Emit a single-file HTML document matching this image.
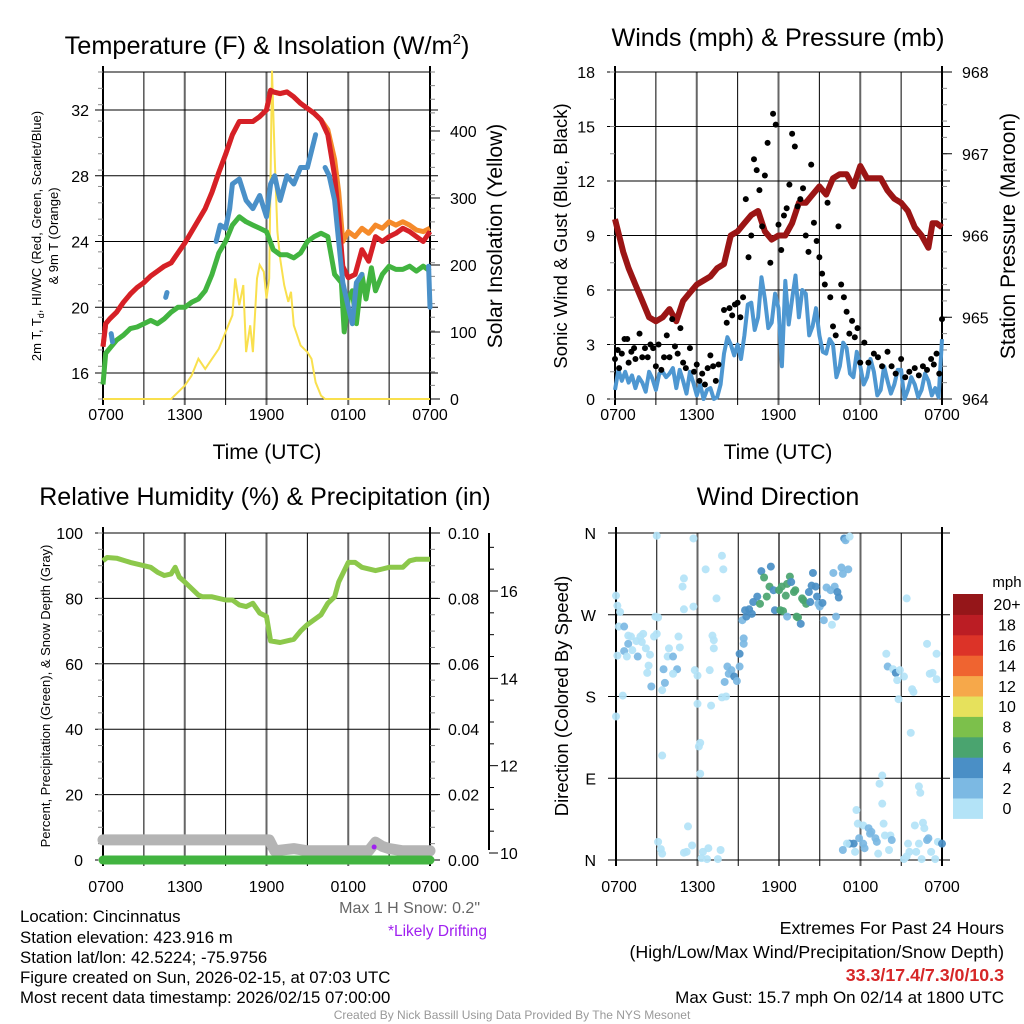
<!DOCTYPE html>
<html><head><meta charset="utf-8">
<style>
body{margin:0;background:#fff;}
svg{display:block;font-family:"Liberation Sans",sans-serif;}
</style></head>
<body>
<svg id="fig" width="1024" height="1024" viewBox="0 0 1024 1024">
<g id="layer"></g>
<text x="267" y="54" font-size="25.3" text-anchor="middle">Temperature (F) &amp; Insolation (W/m<tspan dy="-10" font-size="15">2</tspan><tspan dy="10">)</tspan></text>
<text x="778" y="46" font-size="25.2" text-anchor="middle">Winds (mph) &amp; Pressure (mb)</text>
<text x="265" y="505" font-size="25" text-anchor="middle">Relative Humidity (%) &amp; Precipitation (in)</text>
<text x="778" y="505" font-size="25" text-anchor="middle">Wind Direction</text>
<text x="267" y="459" font-size="21" text-anchor="middle">Time (UTC)</text>
<text x="778" y="459" font-size="21" text-anchor="middle">Time (UTC)</text>
<text transform="translate(41,236) rotate(-90)" font-size="13" text-anchor="middle">2m T, T<tspan dy="3" font-size="9">d</tspan><tspan dy="-3">, HI/WC (Red, Green, Scarlet/Blue)</tspan></text>
<text transform="translate(58,236) rotate(-90)" font-size="13" text-anchor="middle">&amp; 9m T (Orange)</text>
<text transform="translate(502,236) rotate(-90)" font-size="21" text-anchor="middle">Solar Insolation (Yellow)</text>
<text transform="translate(567,236) rotate(-90)" font-size="18.5" text-anchor="middle">Sonic Wind &amp; Gust (Blue, Black)</text>
<text transform="translate(1015,236) rotate(-90)" font-size="21" text-anchor="middle">Station Pressure (Maroon)</text>
<text transform="translate(50,696) rotate(-90)" font-size="13" text-anchor="middle">Percent, Precipitation (Green), &amp; Snow Depth (Gray)</text>
<text transform="translate(568,696) rotate(-90)" font-size="18.5" text-anchor="middle">Direction (Colored By Speed)</text>
<text x="480" y="913" font-size="16" fill="#666" text-anchor="end">Max 1 H Snow: 0.2"</text>
<text x="487" y="936" font-size="15.5" fill="#a020f0" text-anchor="end">*Likely Drifting</text>
<g font-size="16.8">
<text x="20" y="922">Location: Cincinnatus</text>
<text x="20" y="943">Station elevation: 423.916 m</text>
<text x="20" y="963">Station lat/lon: 42.5224; -75.9756</text>
<text x="20" y="983">Figure created on Sun, 2026-02-15, at 07:03 UTC</text>
<text x="20" y="1003">Most recent data timestamp: 2026/02/15 07:00:00</text>
</g>
<g font-size="17.8" text-anchor="end">
<text x="1004" y="934">Extremes For Past 24 Hours</text>
<text x="1004" y="958">(High/Low/Max Wind/Precipitation/Snow Depth)</text>
<text x="1004" y="981" fill="#d62728" font-weight="bold">33.3/17.4/7.3/0/10.3</text>
<text x="1004" y="1003" font-size="17">Max Gust: 15.7 mph On 02/14 at 1800 UTC</text>
</g>
<text x="512" y="1019" font-size="12" fill="#999" text-anchor="middle">Created By Nick Bassill Using Data Provided By The NYS Mesonet</text>
</svg>
<script>
// ---------- data ----------
const timeLabels=["0700","1300","1900","0100","0700"];
const tempTicks=[16,20,24,28,32];
const solarTicks=[0,100,200,300,400];
const windTicks=[0,3,6,9,12,15,18];
const presTicks=[964,965,966,967,968];
const rhTicks=[0,20,40,60,80,100];
const precipTicks=["0.00","0.02","0.04","0.06","0.08","0.10"];
const snowTicks=[10,12,14,16];
const dirLabels=["N","E","S","W","N"];
const cbLabels=["0","2","4","6","8","10","12","14","16","18","20+"];
const cbColors=["#b3e3f7","#7cb9e3","#4a8fc6","#4aa46f","#7cc04b","#e6e15c","#f6a84a","#ef6430","#dc3328","#bb1d24","#951619"];

const tT=[0,0.2,0.5,1,1.5,2,2.5,3,3.5,4,4.5,5,5.5,6,6.5,7,7.5,8,8.5,9,9.5,10,10.5,11,11.5,12,12.3,12.5,13,13.5,14,14.5,15,15.5,16,16.5,17,17.3,17.6,18,18.5,19,19.5,20,20.5,21,21.5,22,22.5,23,23.5,24];
const tempRed=[17.6,19,19.3,19.7,20.3,20.8,21.2,21.5,21.9,22.2,22.5,22.7,23.3,23.9,24.6,25.3,26.0,27.0,28.2,29.3,30.5,31.3,31.3,31.3,31.6,32.0,33.2,33.1,33.0,33.1,32.8,32.4,32.1,31.8,31.4,30.5,28.0,25.5,22.5,21.8,22.0,23.5,22.8,24.3,24.0,24.3,24.5,24.8,24.6,24.3,24.0,24.6];
const tempOrange=[17.6,19,19.3,19.7,20.3,20.8,21.2,21.5,21.9,22.2,22.5,22.7,23.3,23.9,24.6,25.3,26.0,27.0,28.2,29.3,30.5,31.3,31.3,31.3,31.6,32.0,33.2,33.1,33.0,33.1,32.8,32.4,32.1,31.8,31.4,30.8,29.0,27.0,24.0,24.6,24.3,24.8,24.5,25.0,24.8,25.2,25.0,25.2,25.0,24.7,24.6,24.8];
const tD=[0,0.2,0.5,1,1.5,2,2.5,3,3.5,4,4.5,5,5.5,6,6.5,7,7.5,8,8.5,9,9.5,10,10.5,11,11.5,12,12.5,13,13.5,14,14.5,15,15.5,16,16.5,17,17.5,17.7,18,18.3,18.6,19,19.3,19.7,20,20.5,21,21.5,22,22.5,23,23.5,24];
const dewGreen=[15.3,17.2,17.5,18,18.3,18.7,18.8,19.0,19.2,19.0,19.3,19.7,20.0,20.0,20.3,20.5,21.0,22.0,23.3,24.0,25.0,25.5,25.2,25.0,24.8,24.6,23.5,23.2,23.2,23.0,23.3,24.0,24.3,24.5,24.3,22.0,21.5,18.5,20.5,21.0,19.0,22.0,20.5,22.4,21.0,22.0,22.5,22.3,22.3,22.5,22.2,22.5,22.2];
const tW=[0.4,0.6,0.7,4.4,4.6,4.7,8.0,8.3,8.6,9.0,9.3,9.5,10,10.5,11,11.5,12,12.3,12.6,13,13.5,14,14.5,15,15.3,15.6,15.8,16.3,16.6,17,17.3,17.6,18,18.3,18.6,19,19.2,23.8,23.9,24];
const windChill=[null,18.4,17.9,null,20.6,20.9,null,24.0,25.0,24.8,26.0,27.5,27.8,26.5,26.0,26.8,25.5,27.5,28.0,26.5,28.0,27.5,28.5,28.5,29.5,30.5,null,28.5,28.0,26.5,24.0,21.5,20.0,19.0,21.5,22.0,null,null,22.5,20.0];
const tS=[0,5.0,5.5,6,6.5,7,7.5,8,8.5,9,9.5,9.7,10,10.3,10.5,10.8,11,11.3,11.5,11.8,12,12.2,12.4,12.6,12.8,13,13.3,13.6,13.8,14,14.5,15,15.3,15.6,16,16.3,24];
const solar=[0,0,10,20,35,60,45,60,75,100,125,180,140,170,70,110,70,180,200,190,150,180,490,360,250,210,170,145,160,110,80,70,60,25,5,0,0];

const tP=[0,0.3,0.6,1,1.5,2,2.5,3,3.5,4,4.5,5,5.5,6,6.5,7,7.5,8,8.5,9,9.5,10,10.5,11,11.5,12,12.5,13,13.5,14,14.5,15,15.5,16,16.5,17,17.5,18,18.5,19,19.5,20,20.5,21,21.5,22,22.5,23,23.3,23.6,24];
const pressure=[966.2,966.0,965.8,965.6,965.4,965.2,965.0,964.95,965.0,965.1,964.95,965.2,965.3,965.4,965.45,965.5,965.6,965.65,966.0,966.05,966.15,966.25,966.3,966.05,965.95,966.0,966.0,966.15,966.4,966.4,966.5,966.6,966.5,966.7,966.75,966.75,966.6,966.85,966.7,966.7,966.7,966.55,966.45,966.4,966.3,966.1,966.0,965.85,966.15,966.15,966.1];
const tWs=[0,0.25,0.5,0.75,1,1.25,1.5,1.75,2,2.25,2.5,2.75,3,3.25,3.5,3.75,4,4.25,4.5,4.75,5,5.25,5.5,5.75,6,6.25,6.5,6.75,7,7.25,7.5,7.75,8,8.25,8.5,8.75,9,9.25,9.5,9.75,10,10.25,10.5,10.75,11,11.25,11.5,11.75,12,12.25,12.5,12.75,13,13.25,13.5,13.75,14,14.25,14.5,14.75,15,15.25,15.5,15.75,16,16.25,16.5,16.75,17,17.25,17.5,17.75,18,18.25,18.5,18.75,19,19.25,19.5,19.75,20,20.25,20.5,20.75,21,21.25,21.5,21.75,22,22.25,22.5,22.75,23,23.25,23.5,23.75,24];
const sonicWind=[0.5,1.6,1.0,1.5,0.9,1.3,0.6,1.2,0.9,0.4,1.5,1.1,0.5,1.4,1.5,1.2,1.4,1.7,0.6,1.6,1.0,0.3,1.5,0.9,0.2,0.8,0.0,0.5,0.6,0.0,0.1,0.8,2.5,3.4,3.0,2.4,3.0,2.2,3.5,5.2,5.3,3.8,4.5,6.7,5.5,3.9,4.2,5.8,5.0,1.8,6.5,4.1,5.5,6.8,4.5,6.0,5.8,3.5,4.0,5.0,3.5,2.6,2.5,3.3,3.0,1.2,1.8,3.1,2.8,1.4,1.2,2.6,1.8,0.8,1.2,2.2,1.5,0.2,0.5,1.8,1.0,0.3,0.8,1.6,1.6,0.0,0.5,1.2,0.8,0.1,0.5,1.4,1.0,0.2,0.6,0.1,3.3];
const gustT=[0.0,0.2,0.3,0.5,0.7,0.9,1.0,1.2,1.4,1.5,1.8,2.0,2.2,2.4,2.6,2.8,3.0,3.2,3.4,3.6,3.8,4.0,4.2,4.4,4.6,4.8,5.0,5.2,5.5,5.8,6.0,6.2,6.4,6.6,6.8,7.0,7.2,7.4,7.6,8.0,8.2,8.4,8.6,8.8,9.0,9.2,9.4,9.6,9.8,10.0,10.2,10.4,10.6,10.8,11.0,11.2,11.4,11.6,11.8,12.0,12.2,12.4,12.6,12.8,13.0,13.2,13.4,13.6,13.8,14.0,14.2,14.4,14.6,14.8,15.0,15.2,15.4,15.6,15.8,16.0,16.2,16.4,16.6,16.8,17.0,17.2,17.4,17.6,17.8,18.0,18.3,18.6,19.0,19.3,19.6,20.0,20.3,20.6,21.0,21.3,21.6,22.0,22.3,22.6,22.9,23.2,23.4,23.6,23.8,24.0];
const gustV=[2.2,2.7,1.7,2.5,3.3,3.3,2.0,2.6,2.8,2.2,3.6,2.3,2.8,2.3,3.0,2.8,1.8,3.0,1.6,2.3,3.5,2.3,4.4,2.9,2.5,3.9,2.0,1.7,2.8,1.5,1.9,1.0,1.4,0.8,1.7,2.4,1.8,1.0,1.9,4.9,4.2,5.0,4.6,5.2,5.3,4.5,5.6,11.0,7.8,9.0,13.2,12.6,11.5,9.5,12.3,14.1,7.5,15.7,15.1,9.6,8.2,10.1,10.5,11.8,14.6,13.9,10.6,11.0,11.6,9.0,8.1,12.9,9.7,8.7,7.8,6.9,6.3,10.8,5.6,4.0,3.5,9.5,6.3,5.6,4.8,3.6,4.3,3.4,3.9,2.0,3.1,2.0,2.5,2.3,1.8,2.6,1.8,1.4,2.2,1.2,1.5,1.7,1.3,1.8,1.6,2.2,1.9,2.5,1.4,4.4];

const tR=[0,0.3,1,2,3,3.5,4,4.5,5,5.3,5.6,6,7,7.3,8,9,9.5,10,10.5,11,11.5,12,12.3,13,14,14.5,15,16,16.5,17,17.3,18,18.5,19,20,20.5,21,22,22.5,23,24];
const relHum=[91.5,92.5,92.3,91,90,89.5,88,87,87.5,89.5,86.5,85,81,80.5,80.5,79.5,79.5,78,77.5,78.5,75.5,74.5,67,66.5,67.5,70,72,75,78.5,80.5,85,91,91,89.5,88.5,89,89.5,89.5,91.5,92,92];
const tSn=[0,12.2,12.6,14,15,19.5,20,20.5,21,22,24];
const snowDepth=[10.3,10.3,10.05,10.1,10.05,10.05,10.25,10.15,10.1,10.05,10.05];
const tPr=[0,24];
const precip=[0,0];

const dirHours=[0,0.1,0.3,0.2,0.6,0.1,0.9,0.9,0.6,1.1,1.2,1.5,1.6,0.8,1.8,2.0,1.9,2.2,2.4,2.3,2.5,2.6,2.8,3.0,2.9,3.1,0.5,0,3.4,3.6,3.5,3.8,3.9,4.2,4.5,4.2,4.6,4.7,5.0,4.9,5.0,5.7,3.0,5.7,6.6,7.8,7.9,7.4,7.1,7.2,7.2,6.9,5.8,6.0,6.0,7.0,7.8,8.1,6.2,6.1,6.2,3.4,3.1,3.3,3.4,5.3,5.6,5.2,5.0,6.4,6.3,6.8,6.7,7.5,7.7,
8.2,8.3,8.5,8.7,8.9,8.0,9.1,9.1,9.4,9.4,9.3,9.6,9.5,9.8,10.0,10.1,10.4,10.6,10.7,10.9,11.1,11.3,11.4,11.6,11.7,12.0,12.1,12.2,12.5,12.6,12.3,12.8,12.6,12.9,13.1,13.2,13.3,13.4,13.6,13.7,13.8,14.0,14.2,14.3,14.4,14.5,14.7,14.8,14.9,15.0,15.2,15.3,15.5,15.8,15.9,16.0,16.1,16.2,16.3,16.4,16.6,16.7,16.8,16.9,17.1,17.2,21.4,
22.9,23.6,19.9,20.0,20.4,20.6,20.9,21.2,20.7,20.8,21.8,21.9,23.1,23.3,23.6,21.7,19.6,19.4,19.6,17.7,17.8,18.2,18.6,18.7,18.8,19.1,19.2,19.7,19.8,20.2,20.3,20.1,19.3,17.9,18.2,18.3,17.5,17.2,17.0,16.7,17.6,21.5,21.4,21.6,22.0,22.1,22.3,22.4,22.5,22.6,22.7,22.9,23.0,23.2,23.5,23.7,24.0,22.3,21.2];
const dirDegrees=[291,280,273,257,257,225,247,238,230,246,231,241,224,224,246,249,240,233,214,206,226,191,246,249,268,267,181,158,187,195,210,224,233,224,210,205,246,234,310,301,276,279,357,354,320,335,320,288,247,242,233,209,209,203,172,170,179,180,129,125,95,115,20,12,7,37,16,9,8,9,2,13,1,1,11,
213,205,209,202,197,196,213,227,244,238,264,268,275,276,271,284,290,282,318,311,290,301,323,297,275,297,275,301,291,304,274,312,268,306,295,297,268,267,260,288,286,282,295,284,302,316,301,290,282,279,283,264,300,297,259,316,301,268,295,289,322,315,354,352,320,356,288,
238,227,227,213,210,206,209,202,198,177,188,185,205,206,199,140,93,84,62,55,40,38,35,29,31,24,20,40,27,27,22,11,7,24,18,13,18,18,18,11,9,18,4,9,38,9,81,74,1,41,35,22,24,9,1,20,18,18,1];
const dirSpeeds=[1,1,1,1,3,1,1,3,3,1,1,1,3,1,1,1,1,1,1,1,1,3,1,1,1,1,1,1,1,3,3,1,1,3,3,1,1,1,1,1,1,1,1,1,1,1,1,1,1,1,1,1,1,1,1,1,1,1,1,1,1,1,1,1,1,1,1,1,1,1,1,1,1,1,1,
3,3,3,5,3,3,3,5,3,3,3,5,5,5,5,5,5,7,5,7,7,7,5,5,5,7,7,7,7,7,7,7,3,5,7,7,7,7,5,7,7,7,5,5,5,5,5,5,3,3,5,3,3,3,1,3,3,3,5,5,3,3,5,3,3,1,1,
1,1,1,3,1,5,1,1,1,1,1,1,1,1,1,1,1,1,1,1,1,1,3,3,3,3,3,1,1,1,3,1,1,3,3,3,5,5,1,3,1,1,1,1,1,1,1,1,1,1,1,3,3,1,1,1,5,1,1];

// ---------- helpers ----------
const NS="http://www.w3.org/2000/svg";
const layer=document.getElementById('layer');
function mk(tag,attrs,parent){const e=document.createElementNS(NS,tag);for(const k in attrs)e.setAttribute(k,attrs[k]);(parent||layer).appendChild(e);return e;}
function lin(d0,d1,r0,r1){return v=>r0+(v-d0)/(d1-d0)*(r1-r0);}
function pathFrom(ts,vs,sx,sy){let d="",pen=false;for(let i=0;i<ts.length;i++){if(vs[i]===null||vs[i]===undefined){pen=false;continue;}d+=(pen?"L":"M")+sx(ts[i]).toFixed(1)+","+sy(vs[i]).toFixed(1);pen=true;}return d;}
function txt(x,y,s,size,anchor,parent){const t=mk('text',{x:x,y:y,'font-size':size,'text-anchor':anchor||'middle'},parent);t.textContent=s;return t;}
const TK=16;

function frame(L,R,T,B,name){
  const g=mk('g',{});
  
  
  const sx=lin(0,24,L,R);
  for(let h=3;h<24;h+=3){const gray=(h%6===0);mk('line',{x1:sx(h),x2:sx(h),y1:T,y2:B+6,stroke:gray?'#666':'#000','stroke-width':gray?2:1},g);}
  return {g,sx};
}
function hgrid(g,L,R,ys){ys.forEach((y,i)=>mk('line',{x1:L-8,x2:R+8,y1:y,y2:y,stroke:'#000','stroke-width':1},g));}
function border(L,R,T,B,name){
  const g=mk('g',{});
  
  
  mk('line',{x1:L,x2:L,y1:T-6,y2:B+6,stroke:'#000','stroke-width':2},g);
  mk('line',{x1:R,x2:R,y1:T-6,y2:B+6,stroke:'#000','stroke-width':2},g);
  mk('line',{x1:L,x2:R,y1:T,y2:T,stroke:'#000','stroke-width':1},g);
  mk('line',{x1:L,x2:R,y1:B,y2:B,stroke:'#000','stroke-width':1},g);
  return g;
}
function minorTicks(g,x,y0,y1,n,dir){for(let i=0;i<=n;i++){const y=y0+(y1-y0)*i/n;mk('line',{x1:x,x2:x+dir*5,y1:y,y2:y,stroke:'#888','stroke-width':1},g);}}
function timeLabelsAt(sx,y,g){timeLabels.forEach((s,i)=>txt(sx(i*6)+(i===0?3:0),y,s,TK,'middle',g));}

// ---------- panel 1: temperature ----------
(function(){
  const L=103,R=430,T=72,B=399;
  const {g,sx}=frame(L,R,T,B,'temp');
  const sy=lin(16,32,373,110), sr=lin(0,400,399,131);
  hgrid(g,L,R,tempTicks.map(sy));
  const ax=border(L,R,T,B,'temp');
  minorTicks(ax,L,T,B,20,-1);minorTicks(ax,R,T,B,24,1);
  tempTicks.forEach(v=>txt(L-14,sy(v)+6,String(v),TK,'end',ax));
  solarTicks.forEach(v=>{mk('line',{x1:R,x2:R+10,y1:sr(v),y2:sr(v),stroke:'#000'},ax);txt(R+20,sr(v)+6,String(v),TK,'start',ax);});
  timeLabelsAt(sx,420,ax);
  const s1=mk('path',{d:pathFrom(tS,solar,sx,sr),fill:'none',stroke:'#f9e04e','stroke-width':2});
  
  
  const s2=mk('path',{d:pathFrom(tT,tempOrange,sx,sy),fill:'none',stroke:'#f58a2a','stroke-width':5,'stroke-linejoin':'round'});
  
  
  const s3=mk('path',{d:pathFrom(tT,tempRed,sx,sy),fill:'none',stroke:'#d62027','stroke-width':5,'stroke-linejoin':'round'});
  
  
  const s4=mk('path',{d:pathFrom(tD,dewGreen,sx,sy),fill:'none',stroke:'#42b440','stroke-width':5,'stroke-linejoin':'round'});
  
  
  const s5=mk('path',{d:pathFrom(tW,windChill,sx,sy),fill:'none',stroke:'#4a90c8','stroke-width':5,'stroke-linejoin':'round','stroke-linecap':'round'});
  
  
})();

// ---------- panel 2: winds ----------
(function(){
  const L=615,R=942,T=72,B=399;
  const {g,sx}=frame(L,R,T,B,'wind');
  const sy=lin(0,18,B,T), sp=lin(964,968,B,T);
  hgrid(g,L,R,windTicks.map(sy));
  const ax=border(L,R,T,B,'wind');
  minorTicks(ax,L,T,B,12,-1);minorTicks(ax,R,T,B,20,1);
  windTicks.forEach(v=>txt(L-20,sy(v)+6,String(v),TK,'end',ax));
  presTicks.forEach(v=>{mk('line',{x1:R,x2:R+10,y1:sp(v),y2:sp(v),stroke:'#000'},ax);txt(R+20,sp(v)+6,String(v),TK,'start',ax);});
  timeLabelsAt(sx,420,ax);
  const w=mk('path',{d:pathFrom(tWs,sonicWind,sx,sy),fill:'none',stroke:'#4e97d1','stroke-width':4,'stroke-linejoin':'round'});
  
  
  const p=mk('path',{d:pathFrom(tP,pressure,sx,sp),fill:'none',stroke:'#9b1515','stroke-width':6,'stroke-linejoin':'round'});
  
  
  const gg=mk('g',{});
  
  
  gustT.forEach((t,i)=>{const c=mk('circle',{cx:sx(t),cy:sy(gustV[i]),r:3,fill:'#000'},gg);
    
    });
})();

// ---------- panel 3: RH ----------
(function(){
  const L=103,R=430,T=533,B=860;
  const {g,sx}=frame(L,R,T,B,'rh');
  const sy=lin(0,100,B,T), sn=lin(10,16,853,591);
  hgrid(g,L,R,rhTicks.map(sy));
  const ax=border(L,R,T,B,'rh');
  minorTicks(ax,L,T,B,20,-1);minorTicks(ax,R,T,B,20,1);
  rhTicks.forEach(v=>txt(L-20,sy(v)+6,String(v),TK,'end',ax));
  precipTicks.forEach((s,i)=>{const y=sy(i*20);mk('line',{x1:R,x2:R+10,y1:y,y2:y,stroke:'#000'},ax);txt(R+18,y+6,s,TK,'start',ax);});
  const sa=mk('g',{});
  
  
  mk('line',{x1:489,x2:489,y1:T,y2:B-10,stroke:'#000','stroke-width':2},sa);
  for(let v=10;v<=17;v+=0.5){mk('line',{x1:489,x2:489+(v%2===0?9:5),y1:sn(v),y2:sn(v),stroke:'#000'},sa);}
  snowTicks.forEach(v=>txt(500,sn(v)+6,String(v),TK,'start',sa));
  timeLabelsAt(sx,892,ax);
  const sd=mk('path',{d:pathFrom(tSn,snowDepth,sx,sn),fill:'none',stroke:'#b4b4b4','stroke-width':11,'stroke-linejoin':'round','stroke-linecap':'round'});
  
  
  const pr=mk('path',{d:pathFrom(tPr,precip,sx,v=>sy(v*1000)),fill:'none',stroke:'#42b440','stroke-width':9,'stroke-linecap':'round'});
  
  
  const rh=mk('path',{d:pathFrom(tR,relHum,sx,sy),fill:'none',stroke:'#8cc84b','stroke-width':5,'stroke-linejoin':'round'});
  
  
  const dr=mk('circle',{cx:sx(19.9),cy:847,r:2.5,fill:'#a020f0'});
  
  
})();

// ---------- panel 4: direction ----------
(function(){
  const L=616,R=942,T=533,B=860;
  const {g,sx}=frame(L,R,T,B,'dir');
  const sy=lin(0,360,B,T);
  hgrid(g,L,R,[0,90,180,270,360].map(sy));
  const ax=border(L,R,T,B,'dir');
  dirLabels.forEach((s,i)=>txt(L-20,sy(i*90)+6,s,TK,'end',ax));
  timeLabelsAt(sx,892,ax);
  const pg=mk('g',{});
  
  
  dirHours.forEach((t,i)=>{const bin=Math.min(10,Math.floor(dirSpeeds[i]/2));
    const c=mk('circle',{cx:sx(t),cy:sy(dirDegrees[i]),r:4,fill:cbColors[bin],'fill-opacity':0.92},pg);
    
    });
  const cb=mk('g',{});
  
  
  txt(1007,587,'mph',15,'middle',cb);
  const top=594,h=20.4;
  cbColors.forEach((c,i)=>{const y=top+(10-i)*h;mk('rect',{x:953,y:y,width:30,height:h+0.5,fill:c},cb);txt(1007,y+h/2+6,cbLabels[i],16,'middle',cb);});
})();
</script>
</body></html>
